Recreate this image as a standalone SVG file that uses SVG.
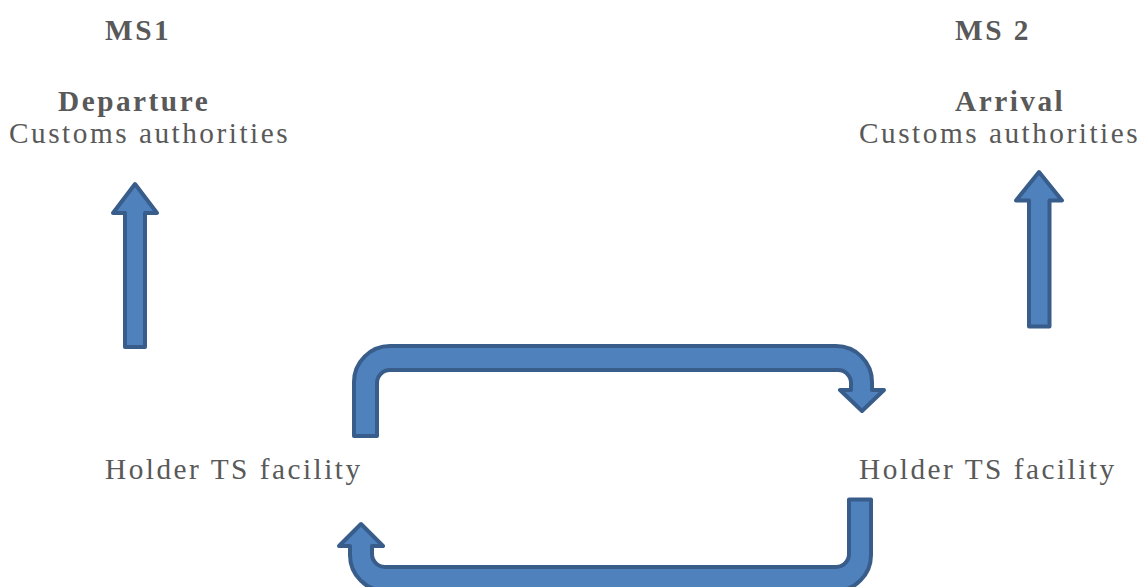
<svg xmlns="http://www.w3.org/2000/svg" width="1142" height="587" viewBox="0 0 1142 587">
<style>
.t{font-family:"Liberation Serif","Times New Roman",serif;font-size:29.3px;letter-spacing:2.5px;fill:#595959}
.b{font-weight:bold}
.a{fill:#4f81bd;stroke:#385d8a;stroke-width:4;stroke-linejoin:round}
</style>
<rect width="1142" height="587" fill="#ffffff"/>
<g id="ms1-departure">
<text class="t b" x="105" y="40">MS1</text>
<text class="t b" x="58" y="111">Departure</text>
<text class="t" x="9" y="143">Customs authorities</text>
</g>
<g id="ms2-arrival">
<text class="t b" x="955" y="40">MS 2</text>
<text class="t b" x="955" y="111">Arrival</text>
<text class="t" x="859" y="143">Customs authorities</text>
</g>
<g id="holder-left">
<text class="t" x="105" y="479">Holder TS facility</text>
</g>
<g id="holder-right">
<text class="t" x="859" y="479">Holder TS facility</text>
</g>
<g id="connectors">
<path class="a" d="M125 347V213H113L135 184L157 213H145V347Z"/>
<path class="a" d="M1029 326.5V200.5H1016L1039 172L1062 200.5H1049.5V326.5Z"/>
<path class="a" d="M354 436V382A36 36 0 0 1 390 346H836A36 36 0 0 1 872 382V390H884L862 411L840 390H851V383A13 13 0 0 0 838 370H390A13 13 0 0 0 377 383V436Z"/>
<path class="a" d="M871 499.5V555A36 36 0 0 1 835 591H386A36 36 0 0 1 350 555V546H339L361 524L383 546H372V554A13 13 0 0 0 385 567H836A13 13 0 0 0 849 554V499.5Z"/>
</g>
</svg>
